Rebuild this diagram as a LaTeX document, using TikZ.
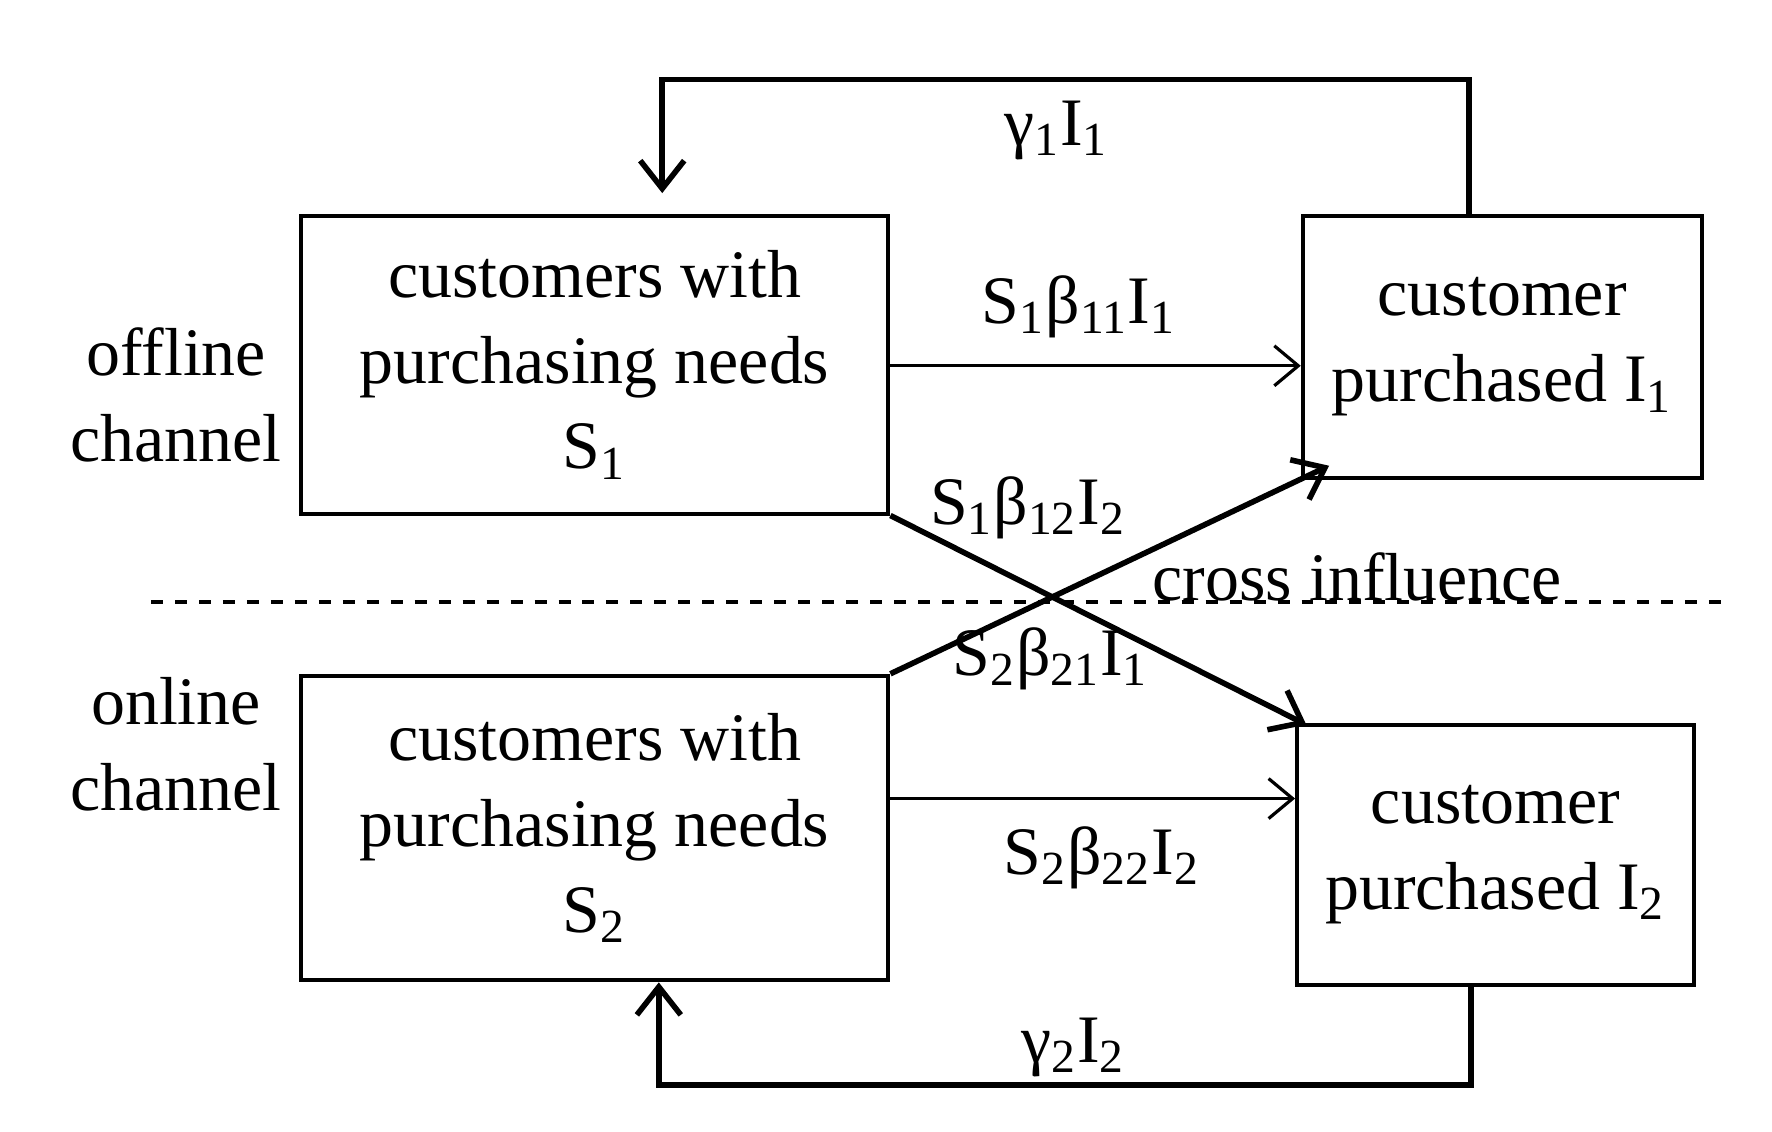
\documentclass[tikz,border=0pt]{standalone}
\usepackage{fontspec}
\setmainfont{Liberation Serif}
\usetikzlibrary{arrows.meta}
\newcommand{\sbs}[1]{\textsubscript{#1}}
\tikzset{
	box/.style={draw, line width=1pt, align=center, inner sep=0pt, font=\fontsize{17}{21.5}\selectfont},
	lbl/.style={font=\fontsize{17}{21.5}\selectfont},
	thin arrow/.style={line width=0.8pt, -{Straight Barb[length=6pt,width=10pt]}},
	thick arrow/.style={line width=1.4pt, -{Straight Barb[length=7pt,width=11pt]}}
}
\begin{document}
\begin{tikzpicture}[x=0.01cm,y=-0.01cm]
		\useasboundingbox (0,0) rectangle (1560,996);
		% boxes
		\node[box, minimum width=5.17cm, minimum height=2.62cm] (s1) at (523.5,321) {customers with\\purchasing needs\\S\sbs{1}};
		\node[box, minimum width=3.51cm, minimum height=2.31cm] (i1) at (1322.5,305.5) {customer\\purchased I\sbs{1}};
		\node[box, minimum width=5.17cm, minimum height=2.68cm] (s2) at (523.5,729) {customers with\\purchasing needs\\S\sbs{2}};
		\node[box, minimum width=3.49cm, minimum height=2.29cm] (i2) at (1316.5,752.5) {customer\\purchased I\sbs{2}};
		\node[lbl, align=center] (off) at (155,348) {offline\\channel};
		\node[lbl, align=center] (on) at (155,655) {online\\channel};
		% dashed separator
		\coordinate (dl) at (133,530); \coordinate (dr) at (1520,530);
		\draw[dashed, line width=0.8pt] (dl) -- (dr);
		% direct purchases
		\draw[thin arrow] (s1.east |- 0,322) -- (i1.west |- 0,322);
		\node[lbl] (b11) at (950,270) {S\sbs{1}β\sbs{11}I\sbs{1}};
		\draw[thin arrow] (s2.east |- 0,703) -- (i2.west |- 0,703);
		\node[lbl] (b22) at (970,755) {S\sbs{2}β\sbs{22}I\sbs{2}};
		% cross influence
		\coordinate (c2) at (1150,638); \coordinate (c1) at (1170,410);
		\draw[thick arrow] (s1.south east) -- (c2);
		\draw[thick arrow] (s2.north east) -- (c1);
		\node[lbl] (b12) at (905,447) {S\sbs{1}β\sbs{12}I\sbs{2}};
		\node[lbl] (b21) at (925,580) {S\sbs{2}β\sbs{21}I\sbs{1}};
		\node[lbl] (cross) at (1195,508) {cross influence};
		% feedback
		\coordinate (t1) at (1293,70); \coordinate (t2) at (583,70); \coordinate (t3) at (583,170);
		\draw[thick arrow] (i1.north -| t1) -- (t1) -- (t2) -- (t3);
		\node[lbl] (g1) at (930,115) {γ\sbs{1}I\sbs{1}};
		\coordinate (u1) at (1295,955); \coordinate (u2) at (580,955);
		\draw[thick arrow] (i2.south -| u1) -- (u1) -- (u2) -- (s2.south -| u2);
		\node[lbl] (g2) at (945,922) {γ\sbs{2}I\sbs{2}};
\end{tikzpicture}
\end{document}
